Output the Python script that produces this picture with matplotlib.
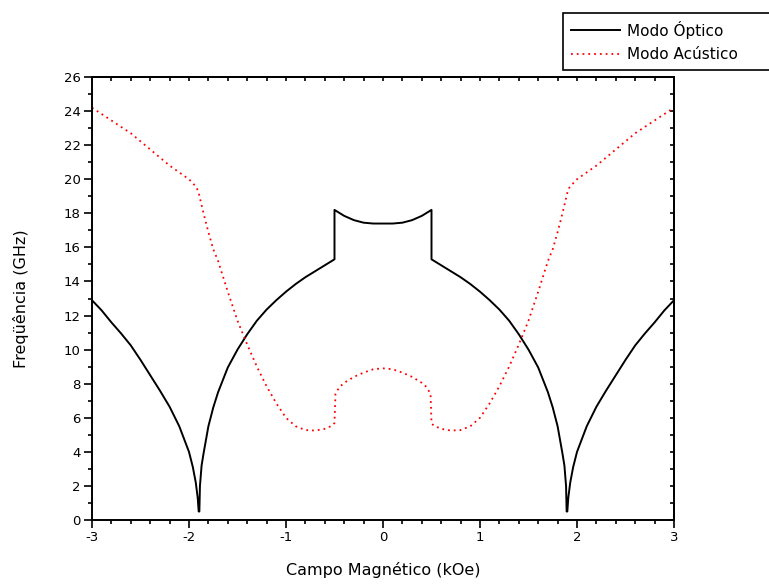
import numpy as np
import matplotlib.pyplot as plt
from matplotlib.ticker import MultipleLocator

plt.rcParams['font.family'] = ['DejaVu Sans']
plt.rcParams['axes.unicode_minus'] = False

# Optical mode (black), left half; the curve is symmetric
campo_optico_esq = [-3.0, -2.9, -2.8, -2.7, -2.6, -2.5, -2.4, -2.3, -2.2, -2.1, -2.0,
                    -1.96, -1.93, -1.91, -1.9, -1.893, -1.887, -1.87, -1.85, -1.8,
                    -1.75, -1.7, -1.6, -1.5, -1.4, -1.3, -1.2, -1.1, -1.0, -0.9,
                    -0.8, -0.7, -0.6, -0.5, -0.5, -0.4, -0.3, -0.2, -0.1, 0.0]
freq_optico_esq = [12.9, 12.3, 11.6, 10.95, 10.25, 9.4, 8.5, 7.6, 6.65, 5.5, 4.0,
                   3.1, 2.2, 1.3, 0.5, 0.5, 2.0, 3.2, 3.9, 5.5,
                   6.6, 7.5, 8.95, 10.0, 10.9, 11.7, 12.35, 12.9, 13.4, 13.85,
                   14.25, 14.6, 14.95, 15.3, 18.2, 17.85, 17.6, 17.45, 17.4, 17.4]

# Acoustic mode (red, dotted), left half
campo_acustico_esq = [-3.0, -2.8, -2.6, -2.4, -2.2, -2.0, -1.95, -1.92, -1.9, -1.85,
                      -1.8, -1.75, -1.7, -1.6, -1.5, -1.4, -1.3, -1.2, -1.1, -1.0,
                      -0.9, -0.8, -0.7, -0.6, -0.52, -0.5, -0.49, -0.45, -0.4, -0.3,
                      -0.2, -0.1, 0.0]
freq_acustico_esq = [24.2, 23.45, 22.7, 21.75, 20.8, 20.0, 19.7, 19.5, 19.2, 18.0,
                     16.9, 15.9, 15.2, 13.4, 11.7, 10.3, 9.0, 7.85, 6.85, 6.0,
                     5.5, 5.28, 5.25, 5.35, 5.55, 5.7, 7.4, 7.8, 8.05, 8.4,
                     8.65, 8.85, 8.9]

# mirror to the positive field side
campo_optico = campo_optico_esq + [-v for v in campo_optico_esq[::-1]]
freq_optico = freq_optico_esq + freq_optico_esq[::-1]
campo_acustico = campo_acustico_esq + [-v for v in campo_acustico_esq[::-1]]
freq_acustico = freq_acustico_esq + freq_acustico_esq[::-1]

fig = plt.figure(figsize=(7.69, 5.86), dpi=100)
ax = fig.add_axes([0.1196, 0.1126, 0.7569, 0.756])

l1, = ax.plot(campo_optico, freq_optico, color='black', lw=1.4, label='Modo Óptico')
l2, = ax.plot(campo_acustico, freq_acustico, color='red', lw=1.3,
              linestyle=(0, (1, 2.2)), label='Modo Acústico')

ax.set_xlim(-3, 3)
ax.set_ylim(0, 26)
ax.xaxis.set_major_locator(MultipleLocator(1))
ax.xaxis.set_minor_locator(MultipleLocator(0.2))
ax.yaxis.set_major_locator(MultipleLocator(2))
ax.yaxis.set_minor_locator(MultipleLocator(1))

ax.tick_params(which='both', direction='out', top=False, right=False,
               labelsize=9.5, width=1.2)
ax.tick_params(which='major', length=6, pad=2)
ax.tick_params(which='minor', length=3)

# inward ticks on the top and right frame
sec_x = ax.secondary_xaxis('top')
sec_x.xaxis.set_major_locator(MultipleLocator(0.2))
sec_x.tick_params(direction='in', length=3, width=1.2, labeltop=False)
sec_y = ax.secondary_yaxis('right')
sec_y.yaxis.set_major_locator(MultipleLocator(1))
sec_y.tick_params(direction='in', length=3, width=1.2, labelright=False)

for s in ax.spines.values():
    s.set_linewidth(1.4)
sec_x.spines['top'].set_linewidth(1.4)
sec_y.spines['right'].set_linewidth(1.4)

ax.set_xlabel('Campo Magnético (kOe)', fontsize=11.5, labelpad=13)
ax.set_ylabel('Freqüência (GHz)', fontsize=11.5, labelpad=25)

leg = fig.legend(handles=[l1, l2], loc='upper left', mode='expand',
                 bbox_to_anchor=(563 / 769, 1 - 13 / 586, 215 / 769, 0.0),
                 fontsize=11, fancybox=False, edgecolor='black', framealpha=1,
                 handlelength=3.2, borderpad=0.5, labelspacing=0.55,
                 handletextpad=0.5, borderaxespad=0)
leg.get_frame().set_linewidth(1.2)

plt.savefig('out.png', dpi=100)
plt.close()
